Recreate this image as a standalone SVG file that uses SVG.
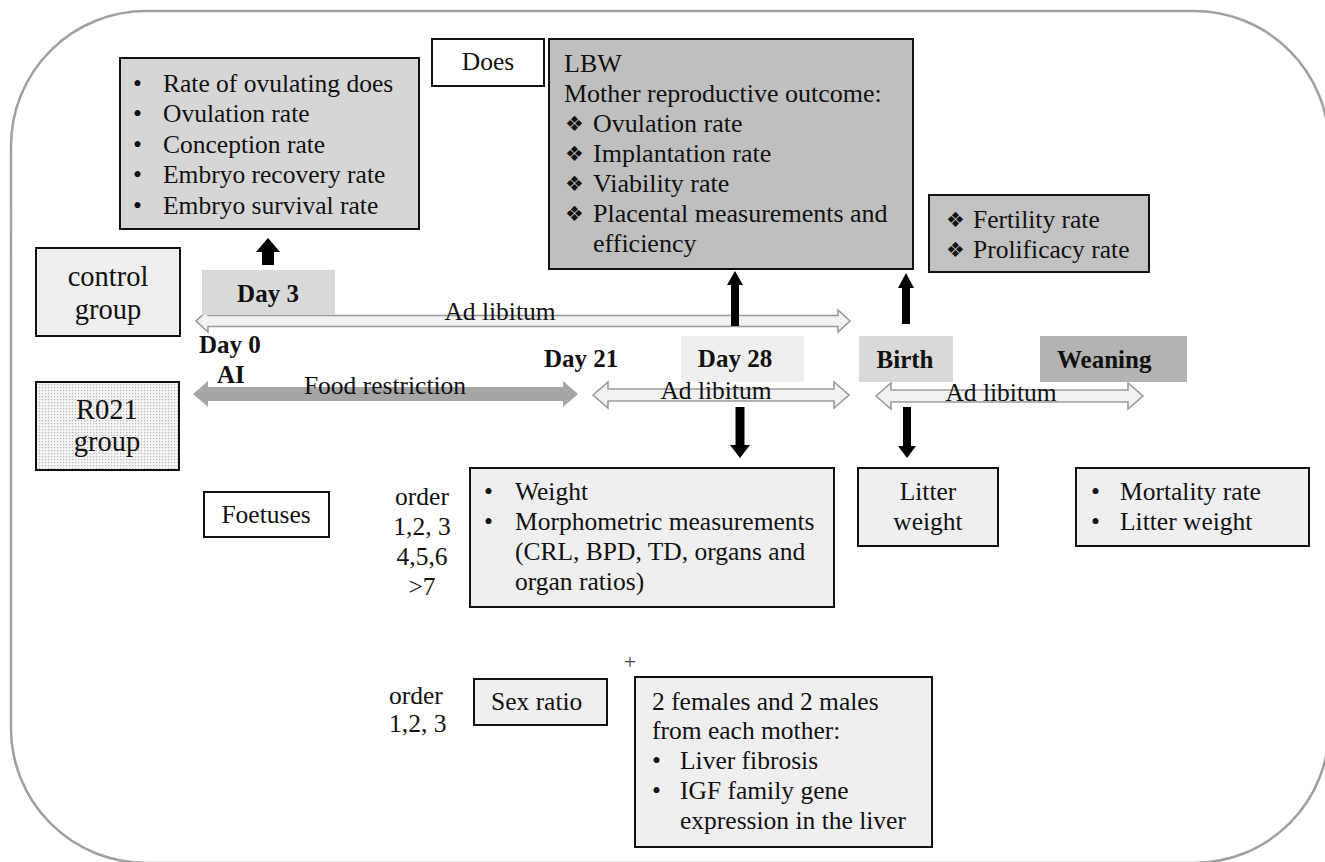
<svg xmlns="http://www.w3.org/2000/svg" width="1325" height="862" viewBox="0 0 1325 862">
<defs>
<pattern id="dots" width="3" height="3" patternUnits="userSpaceOnUse">
<rect width="3" height="3" fill="#f4f4f4"/>
<rect x="0" y="0" width="1.2" height="1.2" fill="#b8b8b8"/>
</pattern>
</defs>
<style>
.t{font-family:"Liberation Serif","Times New Roman",serif;font-size:25.5px;fill:#111}
.b{font-family:"Liberation Serif","Times New Roman",serif;font-size:25px;font-weight:bold;fill:#111}
.g{font-family:"Liberation Serif","Times New Roman",serif;font-size:28.5px;fill:#111}
.d{font-family:"DejaVu Sans",sans-serif;font-size:21px;fill:#111}
.box{stroke:#111;stroke-width:2}
.c{text-anchor:middle}
.oa{fill:#f2f2f2;stroke:#9a9a9a;stroke-width:1.6}
</style>
<rect x="11" y="11" width="1318" height="852" rx="135" fill="none" stroke="#a0a0a0" stroke-width="2.5"/>

<g id="connectors">
<path class="oa" d="M196,321 L208,310 L208,315.5 L838,315.5 L838,310 L850,321 L838,332 L838,326.5 L208,326.5 L208,332 Z"/>
<path fill="#a6a6a6" d="M193,394 L208,381 L208,387 L563,387 L563,381 L578,394 L563,407 L563,401 L208,401 L208,407 Z"/>
<path class="oa" d="M593,395 L608,382 L608,389 L834,389 L834,382 L849,395 L834,408 L834,401 L608,401 L608,408 Z"/>
<path class="oa" d="M876,396 L891,383 L891,390 L1128,390 L1128,383 L1143,396 L1128,409 L1128,402 L891,402 L891,409 Z"/>
<path fill="#000" d="M268,238 L280,252 L274,252 L274,265 L262,265 L262,252 L256,252 Z"/>
<path fill="#000" d="M735,271 L743,285 L739,285 L739,326 L731,326 L731,285 L727,285 Z"/>
<path fill="#000" d="M906,273 L914,288 L910,288 L910,324 L902,324 L902,288 L898,288 Z"/>
<path fill="#000" d="M735.5,407 L744.5,407 L744.5,445 L750,445 L740,458 L730,445 L735.5,445 Z"/>
<path fill="#000" d="M903,407 L911,407 L911,446 L916,446 L907,458 L898,446 L903,446 Z"/>
<text class="t c" x="500" y="320">Ad libitum</text>
<text class="t c" x="385" y="394">Food restriction</text>
<text class="t c" x="716" y="399">Ad libitum</text>
<text class="t c" x="1001" y="401">Ad libitum</text>
</g>

<g id="embryo-box">
<rect class="box" x="120" y="58" width="299" height="171" fill="#d6d6d6"/>
<text class="t" x="133" y="92">•</text><text class="t" x="163" y="92">Rate of ovulating does</text>
<text class="t" x="133" y="122">•</text><text class="t" x="163" y="122">Ovulation rate</text>
<text class="t" x="133" y="153">•</text><text class="t" x="163" y="153">Conception rate</text>
<text class="t" x="133" y="183">•</text><text class="t" x="163" y="183">Embryo recovery rate</text>
<text class="t" x="133" y="214">•</text><text class="t" x="163" y="214">Embryo survival rate</text>
</g>

<g id="does">
<rect class="box" x="432" y="39" width="112" height="47" fill="#fff"/>
<text class="t c" x="488" y="70">Does</text>
</g>

<g id="lbw-box">
<rect class="box" x="549" y="39" width="364" height="230" fill="#bfbfbf"/>
<text class="t" x="564" y="72" style="font-size:26px">LBW</text>
<text class="t" x="564" y="102" style="font-size:26px">Mother reproductive outcome:</text>
<text class="d" x="565" y="131">❖</text><text class="t" x="593" y="132" style="font-size:26px">Ovulation rate</text>
<text class="d" x="565" y="161">❖</text><text class="t" x="593" y="162" style="font-size:26px">Implantation rate</text>
<text class="d" x="565" y="191">❖</text><text class="t" x="593" y="192" style="font-size:26px">Viability rate</text>
<text class="d" x="565" y="221">❖</text><text class="t" x="593" y="222" style="font-size:26px">Placental measurements and</text>
<text class="t" x="593" y="252" style="font-size:26px">efficiency</text>
</g>

<g id="fertility-box">
<rect class="box" x="929" y="195" width="220" height="77" fill="#c2c2c2"/>
<text class="d" x="946" y="227">❖</text><text class="t" x="973" y="228">Fertility rate</text>
<text class="d" x="946" y="257">❖</text><text class="t" x="973" y="258">Prolificacy rate</text>
</g>

<g id="control-group">
<rect class="box" x="36" y="248" width="144" height="88" fill="#efefef"/>
<text class="g c" x="108" y="286">control</text>
<text class="g c" x="108" y="319">group</text>
</g>

<g id="r021-group">
<rect class="box" x="36" y="382" width="143" height="88" fill="url(#dots)"/>
<text class="g c" x="107" y="419">R021</text>
<text class="g c" x="107" y="451">group</text>
</g>

<g id="day3">
<rect x="202" y="270" width="133" height="45" fill="#d9d9d9"/>
<text class="b c" x="268" y="302">Day 3</text>
</g>

<g id="day0">
<text class="b" x="199" y="353">Day 0</text>
<text class="b" x="217" y="383">AI</text>
</g>

<g id="day21">
<text class="b" x="544" y="367">Day 21</text>
</g>

<g id="day28">
<rect x="681" y="336" width="123" height="46" fill="#efefef"/>
<text class="b c" x="735" y="367">Day 28</text>
</g>

<g id="birth">
<rect x="859" y="336" width="94" height="46" fill="#d9d9d9"/>
<text class="b c" x="905" y="368">Birth</text>
</g>

<g id="weaning">
<rect x="1040" y="336" width="147" height="46" fill="#b3b3b3"/>
<text class="b" x="1057" y="368">Weaning</text>
</g>

<g id="foetuses">
<rect class="box" x="204" y="492" width="125" height="45" fill="#fff"/>
<text class="t c" x="266" y="523">Foetuses</text>
</g>

<g id="order-1">
<text class="t c" x="422" y="505">order</text>
<text class="t c" x="422" y="535">1,2, 3</text>
<text class="t c" x="422" y="565">4,5,6</text>
<text class="t c" x="422" y="595">&gt;7</text>
</g>

<g id="weight-box">
<rect class="box" x="470" y="468" width="364" height="139" fill="#efefef"/>
<text class="t" x="484" y="500">•</text><text class="t" x="515" y="500">Weight</text>
<text class="t" x="484" y="530">•</text><text class="t" x="515" y="530">Morphometric measurements</text>
<text class="t" x="515" y="560">(CRL, BPD, TD, organs and</text>
<text class="t" x="515" y="590">organ ratios)</text>
</g>

<g id="litter-weight">
<rect class="box" x="858" y="468" width="140" height="78" fill="#efefef"/>
<text class="t c" x="928" y="500">Litter</text>
<text class="t c" x="928" y="530">weight</text>
</g>

<g id="mortality-box">
<rect class="box" x="1076" y="468" width="233" height="78" fill="#efefef"/>
<text class="t" x="1091" y="500">•</text><text class="t" x="1120" y="500">Mortality rate</text>
<text class="t" x="1091" y="530">•</text><text class="t" x="1120" y="530">Litter weight</text>
</g>

<g id="plus">
<text class="t c" x="630" y="669" style="font-size:22px;fill:#444">+</text>
</g>

<g id="order-2">
<text class="t" x="389" y="704">order</text>
<text class="t" x="389" y="732">1,2, 3</text>
</g>

<g id="sex-ratio">
<rect class="box" x="474" y="679" width="133" height="46" fill="#efefef"/>
<text class="t" x="491" y="710">Sex ratio</text>
</g>

<g id="liver-box">
<rect class="box" x="635" y="677" width="297" height="170" fill="#efefef"/>
<text class="t" x="652" y="710">2 females and 2 males</text>
<text class="t" x="652" y="739">from each mother:</text>
<text class="t" x="652" y="769">•</text><text class="t" x="680" y="769">Liver fibrosis</text>
<text class="t" x="652" y="799">•</text><text class="t" x="680" y="799">IGF family gene</text>
<text class="t" x="680" y="829">expression in the liver</text>
</g>
</svg>
